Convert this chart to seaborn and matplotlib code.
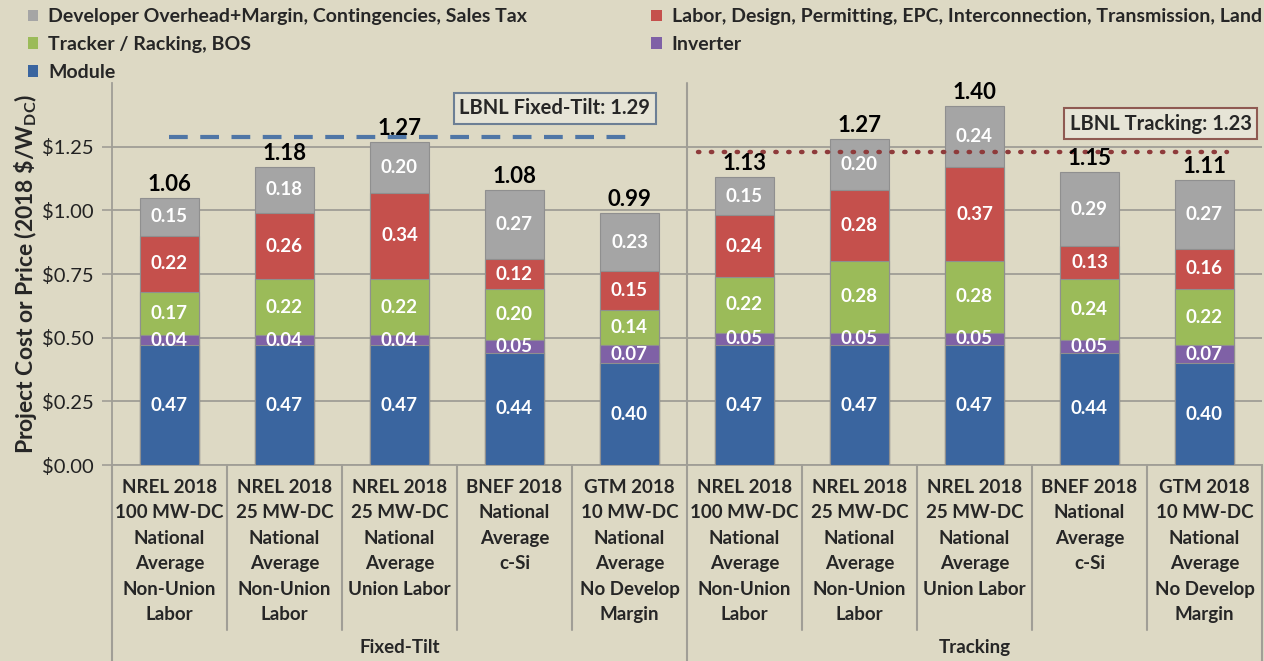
import numpy as np
import pandas as pd
import matplotlib
matplotlib.use("Agg")
import matplotlib.pyplot as plt
import matplotlib.transforms as mtransforms
from matplotlib.patches import Patch
import seaborn as sns

# -----------------------------
# Data
# -----------------------------
keys = ["F1", "F2", "F3", "F4", "F5", "T1", "T2", "T3", "T4", "T5"]
tick_labels = [
    "NREL 2018\n100 MW-DC\nNational\nAverage\nNon-Union\nLabor",
    "NREL 2018\n25 MW-DC\nNational\nAverage\nNon-Union\nLabor",
    "NREL 2018\n25 MW-DC\nNational\nAverage\nUnion Labor\n",
    "BNEF 2018\nNational\nAverage\nc-Si\n\n",
    "GTM 2018\n10 MW-DC\nNational\nAverage\nNo Develop\nMargin",
    "NREL 2018\n100 MW-DC\nNational\nAverage\nNon-Union\nLabor",
    "NREL 2018\n25 MW-DC\nNational\nAverage\nNon-Union\nLabor",
    "NREL 2018\n25 MW-DC\nNational\nAverage\nUnion Labor\n",
    "BNEF 2018\nNational\nAverage\nc-Si\n\n",
    "GTM 2018\n10 MW-DC\nNational\nAverage\nNo Develop\nMargin",
]
groups = ["Fixed-Tilt", "Tracking"]

module = [0.47, 0.47, 0.47, 0.44, 0.40, 0.47, 0.47, 0.47, 0.44, 0.40]
inverter = [0.04, 0.04, 0.04, 0.05, 0.07, 0.05, 0.05, 0.05, 0.05, 0.07]
tracker = [0.17, 0.22, 0.22, 0.20, 0.14, 0.22, 0.28, 0.28, 0.24, 0.22]
labor = [0.22, 0.26, 0.34, 0.12, 0.15, 0.24, 0.28, 0.37, 0.13, 0.16]
developer = [0.15, 0.18, 0.20, 0.27, 0.23, 0.15, 0.20, 0.24, 0.29, 0.27]
totals = [1.06, 1.18, 1.27, 1.08, 0.99, 1.13, 1.27, 1.40, 1.15, 1.11]

lbnl_fixed = 1.29
lbnl_tracking = 1.23

series_names = [
    "Module",
    "Inverter",
    "Tracker / Racking, BOS",
    "Labor, Design, Permitting, EPC, Interconnection, Transmission, Land",
    "Developer Overhead+Margin, Contingencies, Sales Tax",
]
series_vals = [module, inverter, tracker, labor, developer]
colors = ["#3A659F", "#7F61A6", "#9BBB59", "#C5504C", "#A5A5A5"]

bg = "#DDD9C4"
grid_c = "#A09E96"

# -----------------------------
# Figure
# -----------------------------
sns.set_theme(style="white")
plt.rcParams["font.family"] = ["Lato", "DejaVu Sans"]
plt.rcParams["mathtext.default"] = "regular"

fig = plt.figure(figsize=(12.64, 6.61), dpi=100, facecolor=bg)
ax = fig.add_axes([0.0886, 0.2965, 0.9098, 0.5779])
ax.set_facecolor(bg)

df = pd.DataFrame({"key": keys})
cum = np.zeros(len(keys))
cums = []
for vals in series_vals:
    cum = cum + np.array(vals)
    cums.append(cum.copy())

# stacked bars: draw cumulative heights from the top layer down
for i in range(len(series_vals) - 1, -1, -1):
    df["h"] = cums[i]
    sns.barplot(data=df, x="key", y="h", order=keys, color=colors[i],
                width=0.52, edgecolor="#8F8F8F", linewidth=0.8,
                saturation=1, ax=ax, zorder=3)

# segment labels
for i, vals in enumerate(series_vals):
    bottoms = cums[i] - np.array(vals)
    for j, v in enumerate(vals):
        ax.text(j, bottoms[j] + v / 2, f"{v:.2f}", ha="center", va="center",
                color="white", fontsize=13.5, fontweight="bold", zorder=5)

# totals
for j, t in enumerate(totals):
    ax.text(j, cums[-1][j] + 0.012, f"{t:.2f}", ha="center", va="bottom",
            color="black", fontsize=16, fontweight="bold", zorder=5)

# LBNL reference lines
ax.plot([0, 4.0], [lbnl_fixed, lbnl_fixed], color="#4F76A6", lw=3,
        dashes=(4.5, 3), zorder=4)
ax.plot([4.6, 9.2], [lbnl_tracking, lbnl_tracking], color="#8E3B3B", lw=3.2,
        linestyle=(0, (0.3, 2.6)), dash_capstyle="round", zorder=4)
ax.text(3.35, 1.40, f"LBNL Fixed-Tilt: {lbnl_fixed:.2f}", ha="center",
        va="center", fontsize=14.5, fontweight="bold", zorder=6,
        bbox=dict(boxstyle="square,pad=0.28", fc="#E6E4D6", ec="#6C7F95", lw=1.5))
ax.text(8.62, 1.34, f"LBNL Tracking: {lbnl_tracking:.2f}", ha="center",
        va="center", fontsize=14.5, fontweight="bold", zorder=6,
        bbox=dict(boxstyle="square,pad=0.28", fc="#E6E4D6", ec="#8F5A52", lw=1.5))

# axes styling
ax.set_xlim(-0.5, len(keys) - 0.5)
ax.set_ylim(0, 1.5)
ticks = np.arange(0, 1.26, 0.25)
ax.set_yticks(ticks)
ax.set_yticklabels([f"\\${t:.2f}" for t in ticks], fontsize=14.5, color="#222222")
ax.yaxis.grid(True, color=grid_c, lw=1.3, zorder=0)
ax.tick_params(axis="y", length=7, width=1.2, color=grid_c, pad=6, left=True)
ax.set_xticks(range(len(keys)))
ax.set_xticklabels(tick_labels, fontsize=13.5, fontweight="bold",
                   linespacing=1.6, va="top")
ax.tick_params(axis="x", length=0, pad=10)
ax.set_xlabel("")
ax.set_ylabel("Project Cost or Price (2018 \\$/W$_{DC}$)", fontsize=16.5,
              fontweight="bold", labelpad=2)
for s in ["top", "right"]:
    ax.spines[s].set_visible(False)
for s in ["left", "bottom"]:
    ax.spines[s].set_color(grid_c)
    ax.spines[s].set_linewidth(1.3)

# category and group dividers below the axis
trans = mtransforms.blended_transform_factory(ax.transData, ax.transAxes)
for k in range(len(keys) + 1):
    x = k - 0.5
    if k in (0, 5, 10):
        y0, y1 = -0.6, 1.0 if k == 5 else 0
    else:
        y0, y1 = -0.432, 0
    ax.plot([x, x], [y0, y1], transform=trans, color=grid_c, lw=1.5,
            clip_on=False, zorder=2)
for g, name in enumerate(groups):
    ax.text(2 + 5 * g, -0.479, name, transform=trans, ha="center",
            va="center", fontsize=13.5, fontweight="bold")

# legend
order = [4, 2, 0, 3, 1]
handles = [Patch(facecolor=colors[i], edgecolor="none") for i in order]
labels = [series_names[i] for i in order]
fig.legend(handles, labels, loc="upper left", bbox_to_anchor=(0.008, 1.014),
           ncol=2, frameon=False, handlelength=0.55,
           handleheight=0.55, handletextpad=0.5, labelspacing=0.55,
           columnspacing=6.4, prop={"weight": "bold", "size": 14})

fig.savefig("out.png", dpi=100, facecolor=bg)
